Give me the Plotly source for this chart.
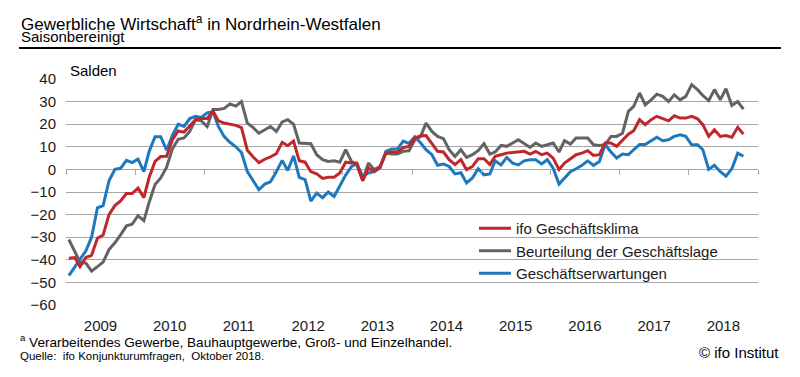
import pandas as pd
import plotly.graph_objects as go

# ---- data (monthly, Jan 2009 - Oct 2018), Salden ----
start_month = "2009-01-01"
n_months = 118

klima = [
    -39.3, -39, -43, -39, -38, -30.5, -29, -20, -16, -14, -10.7, -10.7,
    -8.3, -12.5, -3.5, 3.5, 5.7, 5.8, 13, 17, 16.5, 19, 22, 22.5,
    22.5, 25.8, 21.5, 20.5, 20, 19.5, 18.5, 8.5, 5.5, 3, 4.5, 5.5,
    7, 12, 10.5, 12.5, 3.8, 3.2, -1, -2, -4, -3.5, -3.5, -1.6,
    3.2, 2.8, 2.8, -5, 0.6, -0.9, 0.9, 7.2, 7.7, 7.7, 9.7, 10.2,
    13.9, 14.9, 15, 11.7, 8, 7.7, 4.3, 2.1, 4.3, -0.1, 1.3, 4.7,
    4.7, 2.1, 5.8, 6.5, 7.2, 7.5, 7.7, 8, 6.8, 8, 6.5, 7.2,
    5, -0.1, 2.8, 4.7, 6.5, 7.2, 8.3, 6.2, 6.5, 11.7, 11.7, 10.2,
    13.1, 15.6, 17.1, 22, 19.8, 22, 23.5, 22.4, 21.5, 23.7, 22.7, 22.7,
    23.5, 22.4, 19.8, 14.6, 17.5, 14.6, 15, 14.2, 18.6, 15.6,
]
lage = [
    -31, -36, -41, -41.5, -45, -43, -41, -35.5, -32.5, -29, -25, -24.3,
    -20.5, -22.7, -14.5, -6.7, -3.8, 1, 9, 13.3, 13.9, 16.8, 22, 21.5,
    19, 26.5, 26.5, 27, 29, 28, 30, 20.5, 18.5, 16, 17.5, 19,
    16.8, 21, 22, 20, 11.7, 11.7, 11.4, 6.5, 4.3, 3.5, 3.8, 3.2,
    8.7, 3.5, 2, -5, 2.8, -0.1, 1.3, 7.2, 6.8, 6.8, 8, 8.2,
    13, 14.6, 20.5, 16.8, 14.6, 13.6, 8.7, 5.7, 8.7, 5.3, 6.5, 8.3,
    11.4, 6.8, 7.7, 10.6, 10.2, 11.7, 13.1, 11.5, 9.7, 11.7, 10.2, 10.9,
    11.7, 7.7, 12.7, 11.2, 13.9, 13.9, 13.9, 10.9, 10.6, 10.9, 14.6, 14.6,
    16, 25.7, 27.9, 33.8, 28.6, 30.8, 33.3, 32.3, 30, 33, 30.8, 32.3,
    37.5, 35.3, 32.7, 30.4, 35.3, 30.8, 35.7, 28.3, 30, 26.7,
]
erwartungen = [
    -47, -43, -40, -36, -30, -17, -16, -5, 0, 0.5, 4, 3,
    4.5, -1, 8, 14.5, 14.5, 8.5, 15, 20, 19, 22.5, 23.5, 23,
    25, 25.5, 19, 14.5, 12, 10, 7.5, -1, -5, -9, -6.5, -5.5,
    -1, 4, -0.5, 6, -3.5, -4.5, -14, -10.5, -12.5, -10, -12, -7,
    -2.5, 1.3, 2.4, -3, -1.6, -1, 0.6, 8, 9, 9, 12.5, 11.5,
    14.5, 11.7, 8.7, 6.5, 1.8, 2.4, 1.3, -2, -1.5, -6, -3.8, 0.3,
    -2.4, -2, 3.8, 2, 5.3, 2.8, 2, 3.8, 4.3, 4.3, 2.4, 4.3,
    0.5, -6.5, -4, -1, 0.3, 1.8, 3.8, 1.8, 3.5, 11, 7.7, 5,
    6.8, 6.5, 8.7, 11, 11, 12.7, 14.2, 12.7, 13.1, 14.6, 15.3, 14.6,
    10.9, 10.9, 8.7, 0, 1.8, -1, -3, 0.3, 7.2, 5.8,
]
series_names = ["ifo Geschäftsklima", "Beurteilung der Geschäftslage", "Geschäftserwartungen"]
years = [str(y) for y in range(2009, 2019)]
y_ticks = list(range(-60, 41, 10))

months = pd.date_range(start_month, periods=n_months, freq="MS") + pd.Timedelta(days=15)
year_starts = [f"{y}-01-01" for y in range(2009, 2020)]
year_mids = [f"{y}-07-02" for y in range(2009, 2019)]

# ---- styling ----
FONT = "Arial, Liberation Sans, sans-serif"
RED = "#C0272D"
GRAY = "#636363"
BLUE = "#1E78BE"
GRID = "#A6A6A6"
# page has an 8px body margin; figure is sized so it fits the 800x377 window
OFF = 8
W, H = 800 - OFF, 377 - OFF
PLOT_L, PLOT_R, PLOT_T, PLOT_B = 66, 758, 79, 305   # page pixels of plot area
L, R, T, B = PLOT_L - OFF, 800 - PLOT_R, PLOT_T - OFF, 377 - PLOT_B
PW, PH = PLOT_R - PLOT_L, PLOT_B - PLOT_T


def xp(px):
    return (px - PLOT_L) / PW


def yp(py):
    return (PLOT_B - py) / PH


fig = go.Figure()
fig.add_trace(go.Scatter(x=months, y=lage, name=series_names[1], mode="lines",
                         line=dict(color=GRAY, width=3), legendrank=2))
fig.add_trace(go.Scatter(x=months, y=erwartungen, name=series_names[2], mode="lines",
                         line=dict(color=BLUE, width=3), legendrank=3))
fig.add_trace(go.Scatter(x=months, y=klima, name=series_names[0], mode="lines",
                         line=dict(color=RED, width=3), legendrank=1))
# invisible helper trace so the tick axis at the zero line is drawn
fig.add_trace(go.Scatter(x=months, y=klima, xaxis="x2", mode="lines",
                         line=dict(width=0), opacity=0, showlegend=False, hoverinfo="skip"))

x_range = ["2009-01-01", "2019-01-01"]
fig.update_layout(
    width=W, height=H,
    margin=dict(l=L, r=R, t=T, b=B),
    paper_bgcolor="white", plot_bgcolor="white",
    font=dict(family=FONT, size=15, color="#1a1a1a"),
    showlegend=True,
    legend=dict(x=xp(474), y=yp(212), xanchor="left", yanchor="top",
                bgcolor="rgba(0,0,0,0)", font=dict(size=15, family=FONT),
                traceorder="normal", itemwidth=32, tracegroupgap=0),
    xaxis=dict(range=x_range, type="date", tickvals=year_mids, ticktext=years,
               ticks="", showgrid=False, zeroline=False, showline=False,
               tickfont=dict(size=15), ticklabelstandoff=10),
    xaxis2=dict(range=x_range, type="date", overlaying="x", anchor="free", position=0.6,
                side="bottom", tickvals=year_starts, showticklabels=False,
                ticks="outside", ticklen=5, tickwidth=1.3, tickcolor=GRID,
                showgrid=False, zeroline=False, showline=False),
    yaxis=dict(range=[-60, 40], tickvals=y_ticks, showgrid=True, gridcolor=GRID,
               gridwidth=1.4, zeroline=False, showline=False, ticks="",
               tickfont=dict(size=15), ticklabelstandoff=9),
    shapes=[
        dict(type="rect", xref="paper", yref="paper", x0=xp(465), x1=1.0,
             y0=yp(295), y1=yp(221), fillcolor="white", line=dict(width=0), layer="between"),
        dict(type="line", xref="paper", yref="paper", x0=xp(19), x1=xp(781),
             y0=yp(48), y1=yp(48), line=dict(color="black", width=2)),
    ],
    annotations=[
        dict(text="Gewerbliche Wirtschaft<sup>a</sup> in Nordrhein-Westfalen", xref="paper", yref="paper",
             x=xp(19), y=yp(36), xanchor="left", yanchor="bottom", showarrow=False,
             font=dict(size=17, color="black")),
        dict(text="Saisonbereinigt", xref="paper", yref="paper",
             x=xp(19), y=yp(47), xanchor="left", yanchor="bottom", showarrow=False,
             font=dict(size=15, color="black")),
        dict(text="Salden", xref="paper", yref="paper",
             x=xp(68), y=yp(81), xanchor="left", yanchor="bottom", showarrow=False,
             font=dict(size=15, color="black")),
        dict(text="<sup>a</sup> Verarbeitendes Gewerbe, Bauhauptgewerbe, Groß- und Einzelhandel.",
             xref="paper", yref="paper", x=xp(18), y=yp(341), xanchor="left", yanchor="middle",
             showarrow=False, font=dict(size=13.6, color="black")),
        dict(text="Quelle:  ifo Konjunkturumfragen,  Oktober 2018.",
             xref="paper", yref="paper", x=xp(18), y=yp(356), xanchor="left", yanchor="middle",
             showarrow=False, font=dict(size=11.5, color="black")),
        dict(text="© ifo Institut", xref="paper", yref="paper", x=xp(781), y=yp(352),
             xanchor="right", yanchor="middle", showarrow=False,
             font=dict(size=15, color="black")),
    ],
)

fig.write_html("out.html")
